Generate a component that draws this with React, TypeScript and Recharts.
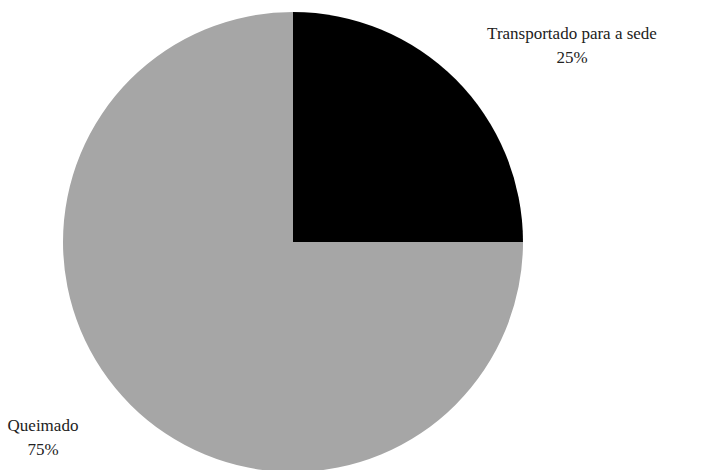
import React from 'react';
import { PieChart, Pie, Cell } from 'recharts';

const categories = ['Transportado para a sede', 'Queimado'];
const shares = [25, 75];
const sliceColors = ['#000000', '#a6a6a6'];

const data = categories.map((name, i) => ({ name, value: shares[i] }));

// label anchor offsets from the pie centre (first line)
const labelOffsets = [
  { dx: 279, dy: -209 },
  { dx: -250, dy: 183 },
];

const renderLabel = (props: any) => {
  const { cx, cy, index, name, value } = props;
  const off = labelOffsets[index];
  const x = cx + off.dx;
  const y = cy + off.dy;
  return (
    <text
      x={x}
      y={y}
      textAnchor="middle"
      fill="#222"
      style={{ fontFamily: '"Liberation Serif", "Times New Roman", serif', fontSize: 17 }}
    >
      <tspan x={x} dy="0.35em">{name}</tspan>
      <tspan x={x} dy={24}>{`${value}%`}</tspan>
    </text>
  );
};

export default function App() {
  return (
    <div style={{ position: 'absolute', left: 0, top: 0, width: 702, height: 470, background: '#fff' }}>
      <PieChart width={702} height={470} margin={{ top: 0, right: 0, bottom: 0, left: 0 }}>
        <Pie
          data={data}
          dataKey="value"
          nameKey="name"
          cx={293}
          cy={242}
          outerRadius={230}
          startAngle={90}
          endAngle={-270}
          stroke="none"
          labelLine={false}
          label={renderLabel}
          isAnimationActive={false}
        >
          {data.map((d, i) => (
            <Cell key={d.name} fill={sliceColors[i]} />
          ))}
        </Pie>
      </PieChart>
    </div>
  );
}
